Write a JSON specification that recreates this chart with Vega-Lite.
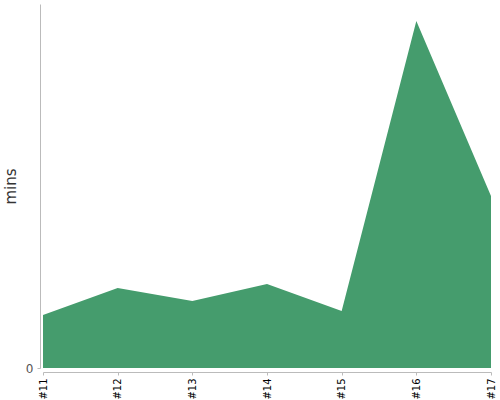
{
  "$schema": "https://vega.github.io/schema/vega-lite/v6.json",
  "autosize": "none",
  "width": 448,
  "height": 364,
  "padding": {"left": 43, "top": 4, "right": 9, "bottom": 32},
  "config": {"view": {"stroke": null}, "font": "DejaVu Sans"},
  "data": {"values": [
    {"run": "#11", "mins": 53},
    {"run": "#12", "mins": 80},
    {"run": "#13", "mins": 67},
    {"run": "#14", "mins": 84},
    {"run": "#15", "mins": 57},
    {"run": "#16", "mins": 347},
    {"run": "#17", "mins": 172}
  ]},
  "mark": {"type": "area", "color": "#459c6d", "opacity": 1},
  "encoding": {
    "x": {"field": "run", "type": "ordinal", "scale": {"type": "point", "padding": 0},
      "axis": {"title": null, "labelAngle": -90, "labelFontSize": 10, "labelColor": "#000", "domainColor": "#bbb", "tickColor": "#bbb", "tickSize": 3, "offset": 4, "labelPadding": 3}},
    "y": {"field": "mins", "type": "quantitative", "scale": {"domain": [0, 364], "nice": false},
      "axis": {"title": "mins", "values": [0], "grid": false, "labelFontSize": 12, "labelColor": "#555", "labelPadding": 4, "domainColor": "#bbb", "tickColor": "#bbb", "tickSize": 3, "offset": 3, "titleFontSize": 15, "titleFontWeight": "normal", "titleColor": "#333", "titlePadding": 7}}
  }
}
